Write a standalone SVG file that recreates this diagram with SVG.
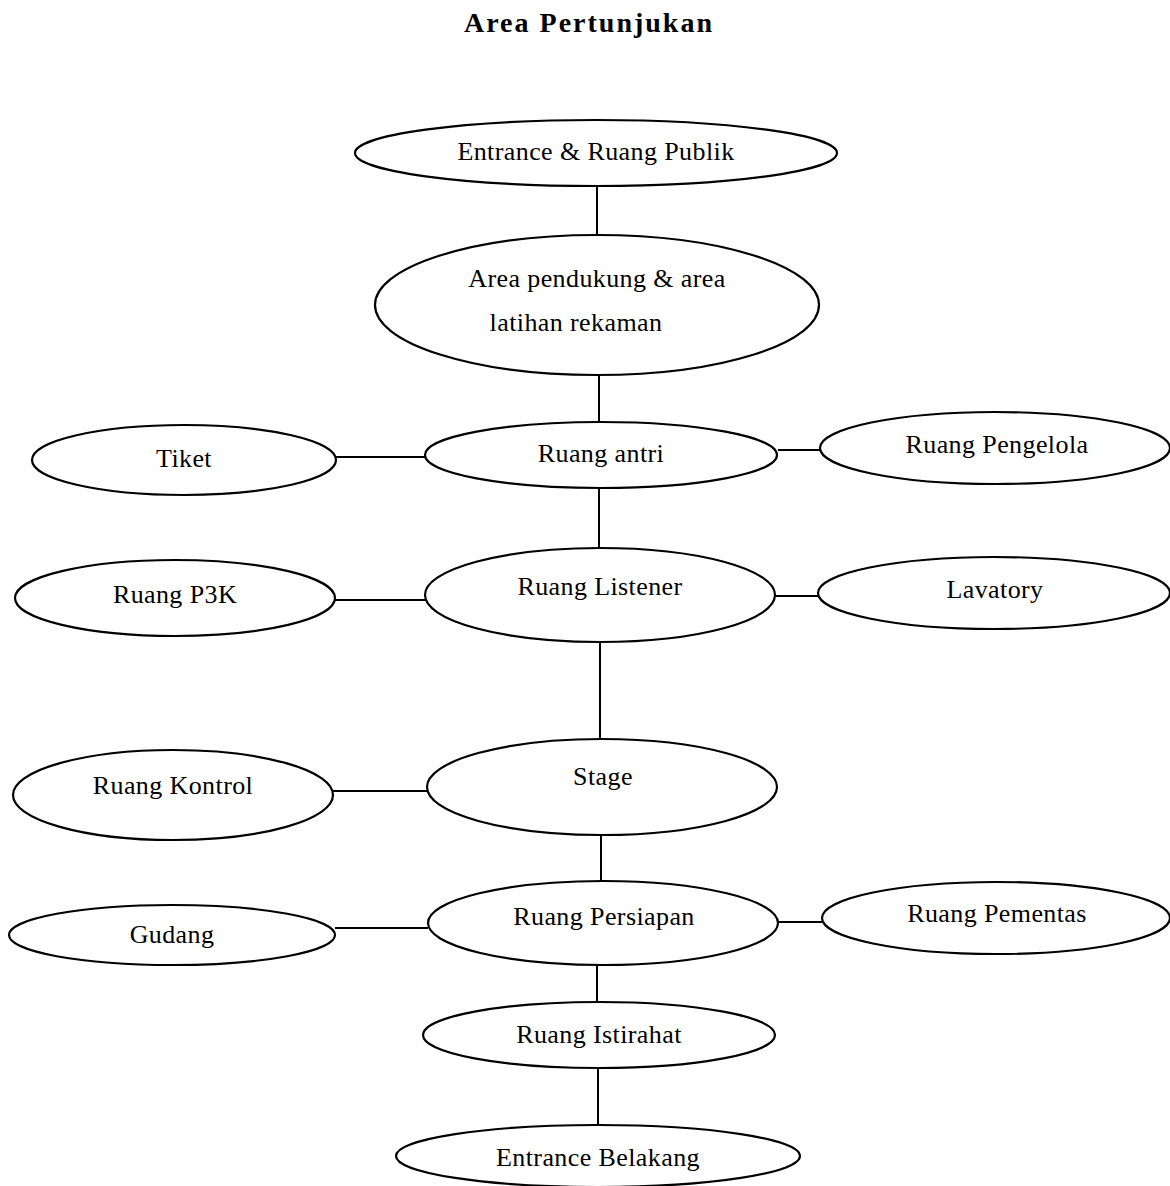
<svg xmlns="http://www.w3.org/2000/svg" width="1170" height="1186" viewBox="0 0 1170 1186">
<style>
.n ellipse{fill:#fff;stroke:#000;stroke-width:2.2}
.n text{font-family:"Liberation Serif","Times New Roman",serif;font-size:26px;letter-spacing:0.4px;text-anchor:middle;fill:#000}
.c line{stroke:#000;stroke-width:2}
.t{font-family:"Liberation Serif","Times New Roman",serif;font-size:28px;font-weight:bold;text-anchor:middle;letter-spacing:2px}
</style>
<rect width="1170" height="1186" fill="#fff"/>
<text class="t" x="589" y="32">Area Pertunjukan</text>
<g class="c" id="connectors">
<line x1="597" y1="186" x2="597" y2="236"/>
<line x1="599" y1="375" x2="599" y2="422"/>
<line x1="336" y1="457" x2="425" y2="457"/>
<line x1="778" y1="450" x2="820" y2="450"/>
<line x1="599" y1="488" x2="599" y2="548"/>
<line x1="335" y1="600" x2="425" y2="600"/>
<line x1="775" y1="596" x2="818" y2="596"/>
<line x1="600" y1="643" x2="600" y2="740"/>
<line x1="333" y1="791" x2="427" y2="791"/>
<line x1="601" y1="835" x2="601" y2="882"/>
<line x1="335" y1="928" x2="428" y2="928"/>
<line x1="778" y1="922" x2="822" y2="922"/>
<line x1="597" y1="965" x2="597" y2="1002"/>
<line x1="598" y1="1068" x2="598" y2="1125"/>
</g>
<g class="n" id="entrance-publik"><ellipse cx="596" cy="153" rx="241" ry="33"/><text x="596" y="160">Entrance &amp; Ruang Publik</text></g>
<g class="n" id="area-pendukung"><ellipse cx="597" cy="305" rx="222" ry="70"/><text x="597" y="287">Area pendukung &amp; area</text><text x="576" y="331">latihan rekaman</text></g>
<g class="n" id="ruang-antri"><ellipse cx="601" cy="455" rx="176" ry="33"/><text x="601" y="462">Ruang antri</text></g>
<g class="n" id="tiket"><ellipse cx="184" cy="460" rx="152" ry="35"/><text x="184" y="467">Tiket</text></g>
<g class="n" id="ruang-pengelola"><ellipse cx="995" cy="448" rx="175" ry="36"/><text x="997" y="453">Ruang Pengelola</text></g>
<g class="n" id="ruang-listener"><ellipse cx="600" cy="595" rx="175" ry="47"/><text x="600" y="595">Ruang Listener</text></g>
<g class="n" id="ruang-p3k"><ellipse cx="175" cy="598" rx="160" ry="38"/><text x="175" y="603">Ruang P3K</text></g>
<g class="n" id="lavatory"><ellipse cx="994" cy="593" rx="176" ry="36"/><text x="995" y="598">Lavatory</text></g>
<g class="n" id="stage"><ellipse cx="602" cy="787" rx="175" ry="48"/><text x="603" y="785">Stage</text></g>
<g class="n" id="ruang-kontrol"><ellipse cx="173" cy="795" rx="160" ry="45"/><text x="173" y="794">Ruang Kontrol</text></g>
<g class="n" id="ruang-persiapan"><ellipse cx="603" cy="923" rx="175" ry="42"/><text x="604" y="925">Ruang Persiapan</text></g>
<g class="n" id="gudang"><ellipse cx="172" cy="935" rx="163" ry="30"/><text x="172" y="943">Gudang</text></g>
<g class="n" id="ruang-pementas"><ellipse cx="996" cy="918" rx="174" ry="36"/><text x="997" y="922">Ruang Pementas</text></g>
<g class="n" id="ruang-istirahat"><ellipse cx="599" cy="1035" rx="176" ry="33"/><text x="599" y="1043">Ruang Istirahat</text></g>
<g class="n" id="entrance-belakang"><ellipse cx="598" cy="1156" rx="202" ry="31"/><text x="598" y="1166">Entrance Belakang</text></g>
</svg>
